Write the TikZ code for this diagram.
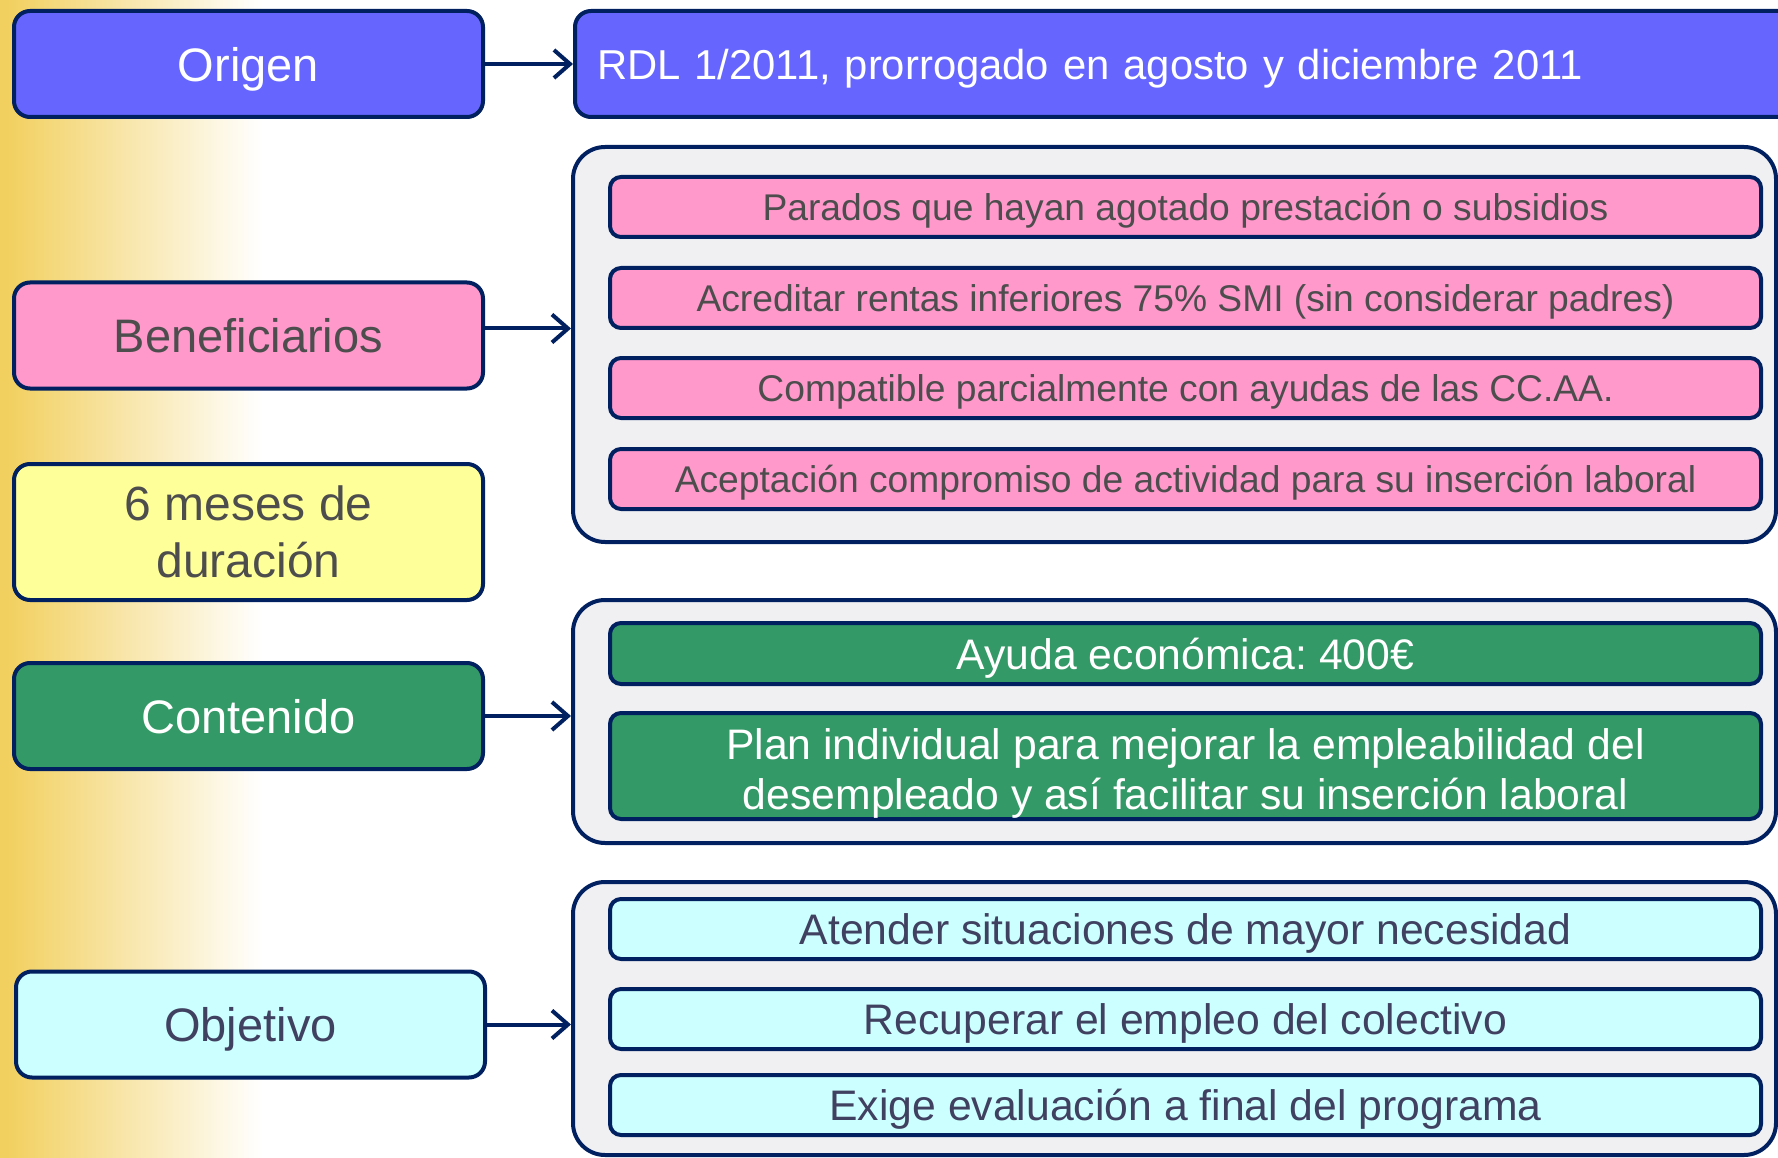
\documentclass[tikz,border=0pt]{standalone}
\usepackage{fontspec}
\setmainfont{Liberation Sans}
\usepackage{tikz}
\usetikzlibrary{arrows.meta,positioning}
\frenchspacing

\definecolor{marino}{RGB}{0,32,96}
\definecolor{azul}{RGB}{102,102,255}
\definecolor{rosa}{RGB}{255,153,204}
\definecolor{amarillo}{RGB}{255,255,153}
\definecolor{verde}{RGB}{51,153,102}
\definecolor{celeste}{RGB}{204,255,255}
\definecolor{fondo}{RGB}{240,240,243}
\definecolor{oro}{RGB}{242,208,96}
\definecolor{gris}{RGB}{77,77,77}
\definecolor{pizarra}{RGB}{64,64,96}

\begin{document}
\begin{tikzpicture}[x=1pt,y=-1pt]
    \tikzset{borde/.style={draw=marino, line width=4pt},
        titulo/.style={borde, rounded corners=16pt, minimum width=469pt, minimum height=106pt,
            inner sep=0pt, align=center, font=\fontsize{47}{57}\selectfont},
        unalinea/.style={text depth=0pt},
        caja/.style={borde, rounded corners=32pt, fill=fondo, minimum width=1203pt},
        punto/.style={borde, rounded corners=11pt, minimum width=1151pt, inner sep=0pt, align=center},
        flecha/.style={draw=marino, line width=4pt, -{Straight Barb[length=16pt,width=28pt]}},}
    \clip (0,0) rectangle (1778,1158);
    \fill[oro] (0,0) rectangle (8,1158);
    \shade[left color=oro, right color=white] (8,0) rectangle (262,1158);

    % columna izquierda
    \node[titulo, unalinea, fill=azul, text=white] (origen) at (248.5,64) {Origen};
    \node[titulo, unalinea, fill=rosa, text=gris] (benef) at (248.5,335.5) {Beneficiarios};
    \node[titulo, fill=amarillo, text=gris, minimum height=136pt,
        font=\fontsize{48}{57}\selectfont] (duracion) at (248.5,532) {6 meses de\\duración};
    \node[titulo, unalinea, fill=verde, text=white] (contenido) at (248.5,716) {Contenido};
    \node[titulo, unalinea, fill=celeste, text=pizarra] (objetivo) at (250.5,1024.5) {Objetivo};

    % columna derecha
    \node[borde, unalinea, fill=azul, text=white, rounded corners=16pt, anchor=west, minimum height=106pt,
        text width=1190pt, inner xsep=22pt, inner ysep=0pt, align=left,
        font=\fontsize{41.8}{50}\selectfont] (rdl) at (573,64) {RDL 1/2011, prorrogado en agosto y diciembre 2011};

    \node[caja, minimum height=395pt] (cajaBenef) at (1174.5,344.5) {};
    \node[caja, minimum height=243pt] (cajaCont) at (1174.5,721.5) {};
    \node[caja, minimum height=273pt] (cajaObj) at (1174.5,1018.5) {};

    \tikzset{rosado/.style={punto, unalinea, fill=rosa, text=gris, minimum height=60pt,
            font=\fontsize{37.2}{44}\selectfont},
        verdoso/.style={punto, fill=verde, text=white, font=\fontsize{42.7}{50}\selectfont},
        celestito/.style={punto, unalinea, fill=celeste, text=pizarra, minimum height=60pt,
            font=\fontsize{42.7}{50}\selectfont}}
    \node[rosado] (benefA) at (1185.5,207) {Parados que hayan agotado prestación o subsidios};
    \node[rosado] (benefB) at (1185.5,298) {Acreditar rentas inferiores 75\% SMI (sin considerar padres)};
    \node[rosado] (benefC) at (1185.5,388) {Compatible parcialmente con ayudas de las CC.AA.};
    \node[rosado] (benefD) at (1185.5,479) {Aceptación compromiso de actividad para su inserción laboral};

    \node[verdoso, unalinea, minimum height=61pt] (contA) at (1185.5,653.5) {Ayuda económica: 400€};
    \node[verdoso, minimum height=106pt] (contB) at (1185.5,766) {\rule{0pt}{46pt}Plan individual para mejorar la empleabilidad del\\desempleado y así facilitar su inserción laboral};

    \node[celestito] (objA) at (1185.5,929) {Atender situaciones de mayor necesidad};
    \node[celestito] (objB) at (1185.5,1019) {Recuperar el empleo del colectivo};
    \node[celestito] (objC) at (1185.5,1105) {Exige evaluación a final del programa};

    % flechas
    \draw[flecha] (origen) -- (rdl);
    \draw[flecha] ([yshift=7pt]benef.east) -- ([yshift=7pt]benef.east -| cajaBenef.west);
    \draw[flecha] (contenido.east) -- (contenido.east -| cajaCont.west);
    \draw[flecha] (objetivo.east) -- (objetivo.east -| cajaObj.west);
\end{tikzpicture}
\end{document}
